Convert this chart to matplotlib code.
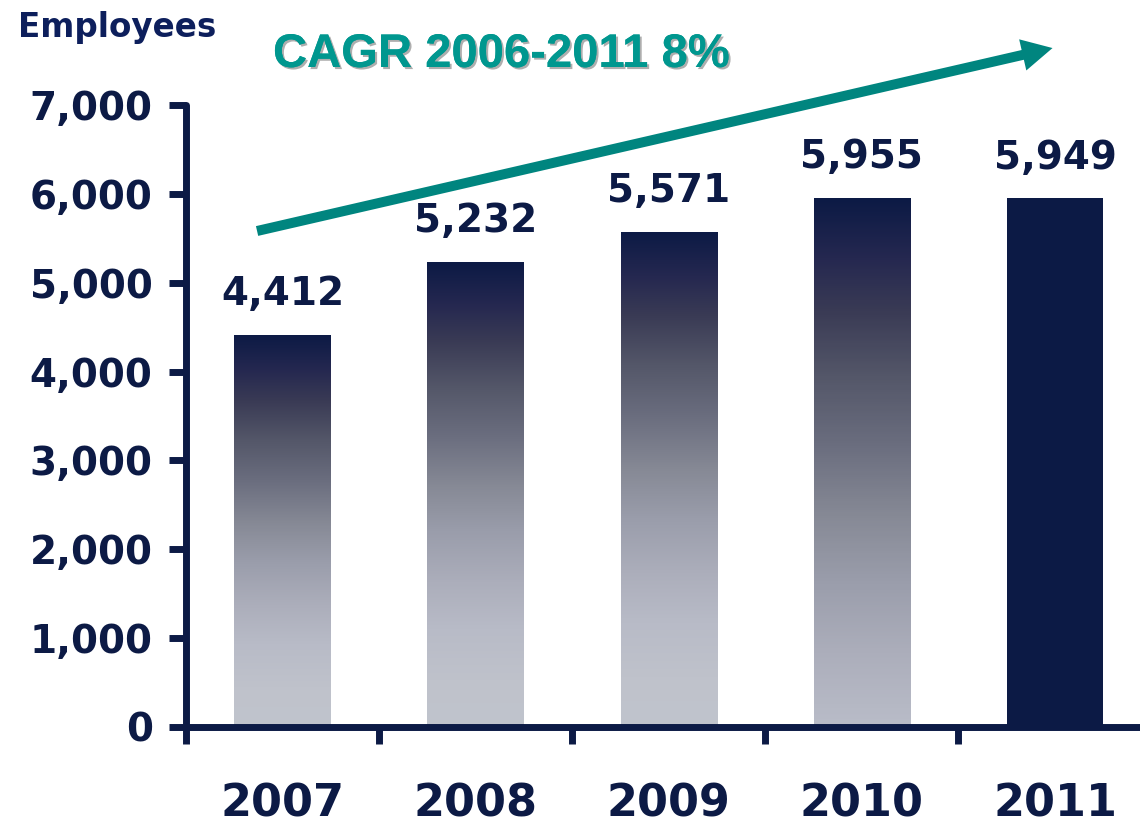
import numpy as np
import matplotlib
matplotlib.use('Agg')
import matplotlib.pyplot as plt
from matplotlib.colors import LinearSegmentedColormap
import matplotlib.patheffects as pe

years = ['2007', '2008', '2009', '2010', '2011']
employees = [4412, 5232, 5571, 5955, 5949]
value_labels = ['4,412', '5,232', '5,571', '5,955', '5,949']
y_ticks = [0, 1000, 2000, 3000, 4000, 5000, 6000, 7000]
y_tick_labels = ['0', '1,000', '2,000', '3,000', '4,000', '5,000', '6,000', '7,000']
cagr_text = 'CAGR 2006-2011 8%'

NAVY = '#0c1a45'
TEAL_TEXT = '#00978f'
TEAL_ARROW = '#00857f'

# how far down the gradient each bar goes (None = solid navy)
grad_end = [1.0, 1.0, 1.0, 0.8, None]

grad = LinearSegmentedColormap.from_list('bars', [
    (0.0, '#0c1a45'), (0.09, '#252850'), (0.17, '#3a3b55'), (0.27, '#545769'),
    (0.38, '#6c6f80'), (0.48, '#868995'), (0.58, '#9a9dab'), (0.69, '#acaebb'),
    (0.79, '#b8bbc7'), (0.90, '#bfc2cb'), (1.0, '#c0c4cd')])

fig = plt.figure(figsize=(11.4, 8.26), dpi=100)
ax = fig.add_axes([186 / 1140, 99 / 826, 954 / 1140, 622 / 826])

x = np.arange(len(years))
bars = ax.bar(x, employees, width=0.5, color=NAVY, zorder=2)

for b, end in zip(bars, grad_end):
    if end is None:
        continue
    b.set_facecolor('none')
    g = np.linspace(end, 0, 256).reshape(-1, 1)
    im = ax.imshow(g, cmap=grad, vmin=0, vmax=1, aspect='auto', origin='lower',
                   extent=[b.get_x(), b.get_x() + b.get_width(), 0, b.get_height()],
                   zorder=1)
    im.set_clip_path(b)

ax.set_xlim(-0.5, 4.44)
ax.set_ylim(0, 7000)

for xi, v, lab in zip(x, employees, value_labels):
    ax.annotate(lab, (xi, v), xytext=(0, 21.5), textcoords='offset points',
                ha='center', va='baseline', fontsize=28, fontweight='bold',
                color=NAVY, family='DejaVu Sans')

# spines / ticks
for s in ['top', 'right']:
    ax.spines[s].set_visible(False)
for s in ['left', 'bottom']:
    ax.spines[s].set_linewidth(5)
    ax.spines[s].set_color(NAVY)
    ax.spines[s].set_capstyle('round')
    ax.spines[s].set_zorder(3)

ax.set_yticks(y_ticks)
ax.set_yticklabels(y_tick_labels)
ax.tick_params(axis='y', length=12, width=5, color=NAVY, pad=12,
               labelsize=28, labelcolor=NAVY)
for t in ax.get_yticklabels():
    t.set_fontweight('bold')

ax.set_xticks(x - 0.5)
ax.set_xticklabels([])
ax.tick_params(axis='x', which='major', length=12, width=5, color=NAVY)
ax.set_xticks(x, minor=True)
ax.set_xticklabels(years, minor=True)
ax.tick_params(axis='x', which='minor', length=0, pad=40, labelsize=32,
               labelcolor=NAVY)
for t in ax.get_xticklabels(minor=True):
    t.set_fontweight('bold')

fig.text(18 / 1140, 1 - 37 / 826, 'Employees', fontsize=23.5, fontweight='bold',
         color='#0d1f5c', ha='left', va='baseline')

fig.text(273 / 1140, 1 - 67 / 826, cagr_text, fontsize=34, fontweight='bold',
         family='Liberation Sans', color=TEAL_TEXT, ha='left', va='baseline',
         path_effects=[pe.withSimplePatchShadow(offset=(1.5, -1.5),
                                                shadow_rgbFace='#9a9a9a', alpha=0.8),
                       pe.Normal()])

# CAGR arrow
ax.annotate('', xy=(3.987, 7641), xytext=(-0.132, 5582),
            xycoords='data', textcoords='data', annotation_clip=False,
            arrowprops=dict(arrowstyle='simple,head_length=2.2,head_width=2.3,tail_width=0.72',
                            mutation_scale=10, color=TEAL_ARROW, shrinkA=0, shrinkB=0,
                            lw=0, clip_on=False))

fig.savefig('out.png', dpi=100)
